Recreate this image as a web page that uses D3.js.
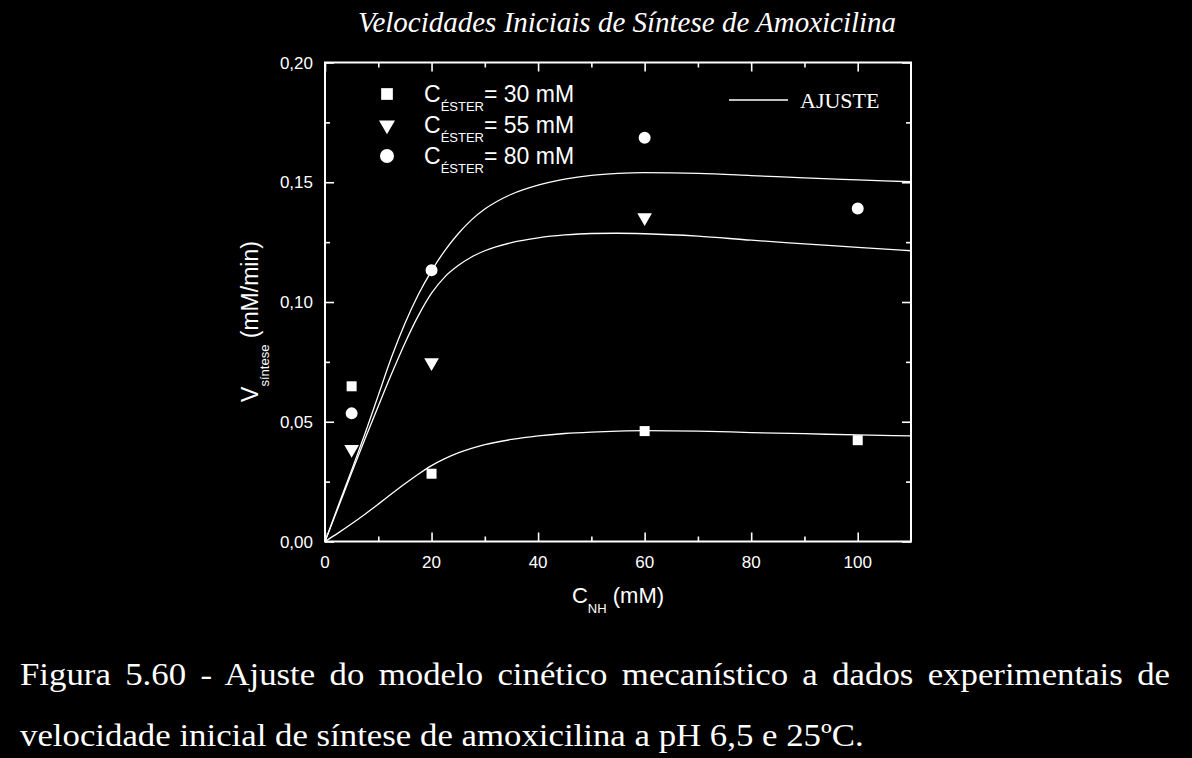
<!DOCTYPE html>
<html>
<head>
<meta charset="utf-8">
<script src="https://cdn.jsdelivr.net/npm/d3@7"></script>
<style>
  html, body { margin: 0; padding: 0; background: #000; }
  svg { display: block; }
</style>
</head>
<body>
<svg id="chart" width="1192" height="758"></svg>
<script>
// experimental points, C_NH in mM
const cNH = [5, 20, 60, 100];
const v30 = [0.0648, 0.0283, 0.0461, 0.0423];
const v55 = [0.0385, 0.0747, 0.1353];
const v80 = [0.0535, 0.1133, 0.1686, 0.1390];

// fitted model curves (AJUSTE)
const fitX  = [0, 2.5, 5, 7.5, 10, 12.5, 15, 17.5, 20, 22.5, 25, 27.5, 30, 35, 40, 45, 50, 55, 60, 70, 80, 90, 100, 110];
const fit30 = [0, 0.0036, 0.0074, 0.0114, 0.0156, 0.0199, 0.0241, 0.0281, 0.0317, 0.0346, 0.0370, 0.0389, 0.0404, 0.0426, 0.0441, 0.0451, 0.0457, 0.0461, 0.0463, 0.0461, 0.0455, 0.0450, 0.0445, 0.0441];
const fit55 = [0, 0.0143, 0.0287, 0.0428, 0.0565, 0.0700, 0.0828, 0.0942, 0.1037, 0.1105, 0.1152, 0.1188, 0.1214, 0.1248, 0.1268, 0.1280, 0.1286, 0.1287, 0.1285, 0.1275, 0.1258, 0.1243, 0.1228, 0.1214];
const fit80 = [0, 0.0150, 0.0298, 0.0450, 0.0610, 0.0770, 0.0910, 0.1030, 0.1130, 0.1215, 0.1285, 0.1343, 0.1388, 0.1450, 0.1488, 0.1513, 0.1529, 0.1537, 0.1540, 0.1537, 0.1528, 0.1518, 0.1510, 0.1502];

const xMajor = [0, 20, 40, 60, 80, 100];
const xMinor = [10, 30, 50, 70, 90];
const yMajor = [0, 0.05, 0.10, 0.15, 0.20];
const yMinor = [0.025, 0.075, 0.125, 0.175];

const seriesLabels = ['= 30 mM', '= 55 mM', '= 80 mM'];

(function() {
  'use strict';

  const svg = d3.select('#chart');
  const left = 325, right = 911, top = 62.5, bottom = 541.5;
  const fmt = d3.format('.2f');
  const comma = v => fmt(v).replace('.', ',');

  const x = d3.scaleLinear().domain([0, 110]).range([left, right]);
  const y = d3.scaleLinear().domain([0, 0.2]).range([bottom, top]);

  svg.append('rect')
    .attr('width', 1192).attr('height', 758)
    .attr('fill', '#000');

  const sans = '"Liberation Sans", Arial, sans-serif';
  const serif = '"Liberation Serif", "Times New Roman", serif';

  // Title
  svg.append('text')
    .attr('x', 627).attr('y', 32)
    .attr('text-anchor', 'middle')
    .attr('font-family', serif)
    .attr('font-style', 'italic')
    .attr('font-size', 29)
    .attr('fill', '#fff')
    .text('Velocidades Iniciais de Síntese de Amoxicilina');

  // Axes with inward ticks on all four sides
  const g = svg.append('g').attr('stroke', '#fff');

  function ticks(axisFn, values, size, transform) {
    g.append('g')
      .attr('transform', transform)
      .call(axisFn.tickValues(values).tickSize(size).tickFormat(''))
      .call(s => s.select('.domain').remove())
      .selectAll('line').attr('stroke', '#fff').attr('stroke-width', 1.6);
  }

  ticks(d3.axisTop(x), xMajor, 9, `translate(0,${bottom})`);
  ticks(d3.axisTop(x), xMinor, 5, `translate(0,${bottom})`);
  ticks(d3.axisBottom(x), xMajor, 9, `translate(0,${top})`);
  ticks(d3.axisBottom(x), xMinor, 5, `translate(0,${top})`);
  ticks(d3.axisRight(y), yMajor, 9, `translate(${left},0)`);
  ticks(d3.axisRight(y), yMinor, 5, `translate(${left},0)`);
  ticks(d3.axisLeft(y), yMajor, 9, `translate(${right},0)`);
  ticks(d3.axisLeft(y), yMinor, 5, `translate(${right},0)`);

  svg.append('rect')
    .attr('x', left).attr('y', top)
    .attr('width', right - left).attr('height', bottom - top)
    .attr('fill', 'none')
    .attr('stroke', '#fff')
    .attr('stroke-width', 2);

  // Tick labels
  svg.append('g').selectAll('text')
    .data(xMajor)
    .join('text')
    .attr('x', d => x(d)).attr('y', bottom + 26)
    .attr('text-anchor', 'middle')
    .attr('font-family', sans).attr('font-size', 17)
    .attr('fill', '#fff')
    .text(d => d);

  svg.append('g').selectAll('text')
    .data(yMajor)
    .join('text')
    .attr('x', left - 12).attr('y', d => y(d) + 6)
    .attr('text-anchor', 'end')
    .attr('font-family', sans).attr('font-size', 17)
    .attr('fill', '#fff')
    .text(d => comma(d));

  // Axis titles
  const xt = svg.append('text')
    .attr('x', 618).attr('y', 603)
    .attr('text-anchor', 'middle')
    .attr('font-family', sans).attr('font-size', 22)
    .attr('fill', '#fff');
  xt.append('tspan').text('C');
  xt.append('tspan').attr('font-size', 13).attr('dy', 10).text('NH');
  xt.append('tspan').attr('dy', -10).text(' (mM)');

  const yt = svg.append('text')
    .attr('transform', 'translate(258,321.5) rotate(-90)')
    .attr('text-anchor', 'middle')
    .attr('font-family', sans).attr('font-size', 23)
    .attr('fill', '#fff');
  yt.append('tspan').text('V');
  yt.append('tspan').attr('font-size', 13).attr('dy', 11).text('síntese');
  yt.append('tspan').attr('dy', -11).text(' (mM/min)');

  // Fitted curves
  const line = d3.line()
    .x(d => x(d[0]))
    .y(d => y(d[1]))
    .curve(d3.curveMonotoneX);

  svg.append('g')
    .attr('fill', 'none')
    .attr('stroke', '#fff')
    .attr('stroke-width', 1.3)
    .selectAll('path')
    .data([fit30, fit55, fit80])
    .join('path')
    .attr('d', vals => line(fitX.map((xv, i) => [xv, vals[i]])));

  // Experimental points
  const symSquare = d3.symbol().type(d3.symbolSquare).size(100);
  const symTri = d3.symbol().type(d3.symbolTriangle).size(93);
  const symCircle = d3.symbol().type(d3.symbolCircle).size(113);

  const pts = svg.append('g').attr('fill', '#fff');

  pts.selectAll('.sq')
    .data(v30)
    .join('path')
    .attr('transform', (d, i) => `translate(${x(cNH[i])},${y(d)})`)
    .attr('d', symSquare());

  pts.selectAll('.tri')
    .data(v55)
    .join('path')
    .attr('transform', (d, i) => `translate(${x(cNH[i])},${y(d)}) rotate(180)`)
    .attr('d', symTri());

  pts.selectAll('.ci')
    .data(v80)
    .join('path')
    .attr('transform', (d, i) => `translate(${x(cNH[i])},${y(d)})`)
    .attr('d', symCircle());

  // Legend: series markers
  const legendSyms = [
    { d: d3.symbol().type(d3.symbolSquare).size(137)(), rot: 0 },
    { d: d3.symbol().type(d3.symbolTriangle).size(111)(), rot: 180 },
    { d: d3.symbol().type(d3.symbolCircle).size(154)(), rot: 0 }
  ];

  const leg = svg.append('g');
  seriesLabels.forEach((lab, i) => {
    const ry = 94 + i * 31;
    leg.append('path')
      .attr('transform', `translate(387,${ry}) rotate(${legendSyms[i].rot})`)
      .attr('d', legendSyms[i].d)
      .attr('fill', '#fff');
    const t = leg.append('text')
      .attr('x', 424).attr('y', ry + 8)
      .attr('font-family', sans).attr('font-size', 23)
      .attr('fill', '#fff');
    t.append('tspan').text('C');
    t.append('tspan').attr('font-size', 13).attr('dy', 9).text('ÉSTER');
    t.append('tspan').attr('dy', -9).text(lab);
  });

  // Legend: fit line
  leg.append('line')
    .attr('x1', 729).attr('x2', 788)
    .attr('y1', 100).attr('y2', 100)
    .attr('stroke', '#fff').attr('stroke-width', 1.3);
  leg.append('text')
    .attr('x', 800).attr('y', 108)
    .attr('font-family', serif)
    .attr('font-size', 22)
    .attr('fill', '#fff')
    .text('AJUSTE');

  // Caption: glyphs are a bit wide in the source, first line justified
  const line1 = 'Figura 5.60 - Ajuste do modelo cinético mecanístico a dados experimentais de';
  const line2 = 'velocidade inicial de síntese de amoxicilina a pH 6,5 e 25ºC.';
  const cap = svg.append('g');
  const cap1 = cap.append('text')
    .attr('y', 685)
    .attr('font-family', serif).attr('font-size', 32)
    .attr('fill', '#fff')
    .text(line1);
  const cap2 = cap.append('text')
    .attr('y', 746)
    .attr('font-family', serif).attr('font-size', 32)
    .attr('fill', '#fff')
    .text(line2);

  const k = (864 - 20) / cap2.node().getComputedTextLength();
  cap.attr('transform', `scale(${k},1)`);
  cap1.attr('x', 20 / k);
  cap2.attr('x', 20 / k);
  const spaces = line1.split(' ').length - 1;
  const extra = ((1170 - 20) / k - cap1.node().getComputedTextLength()) / spaces;
  cap1.attr('word-spacing', extra);
})();
</script>
</body>
</html>
